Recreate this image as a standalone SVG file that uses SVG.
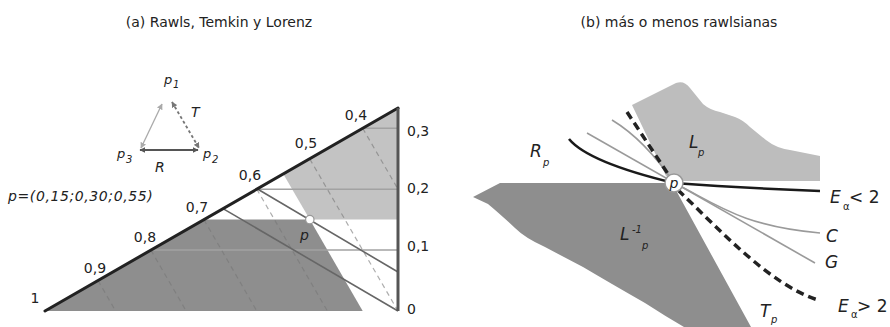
<svg xmlns="http://www.w3.org/2000/svg" width="890" height="327" viewBox="0 0 890 327">
<style>
text{font-family:"DejaVu Sans","Liberation Sans",sans-serif;fill:#222}
.t{font-size:14px}
.ax{font-size:14px}
.it{font-style:italic}
.big{font-size:17px;font-style:italic}
.sub{font-size:10px;font-style:italic}
.hl{stroke:#a2a2a2;stroke-width:1.5;fill:none}
.dl{stroke:#777;stroke-opacity:.6;stroke-width:1.2;stroke-dasharray:5 4;fill:none}
.sl{stroke:#666;stroke-width:1.6;fill:none}
.gl{stroke:#9a9a9a;stroke-width:1.6;fill:none}
</style>
<defs>
<marker id="ah" viewBox="0 0 10 10" refX="9" refY="5" markerWidth="5" markerHeight="5" orient="auto-start-reverse" markerUnits="userSpaceOnUse"><path d="M0,0 L10,5 L0,10 Z" fill="context-stroke"/></marker>
<marker id="ahd" viewBox="0 0 10 10" refX="9" refY="5" markerWidth="6" markerHeight="6" orient="auto-start-reverse" markerUnits="userSpaceOnUse"><path d="M0,0 L10,5 L0,10 Z" fill="#555"/></marker>
<marker id="ahl" viewBox="0 0 10 10" refX="9" refY="5" markerWidth="6" markerHeight="6" orient="auto-start-reverse" markerUnits="userSpaceOnUse"><path d="M0,0 L10,5 L0,10 Z" fill="#aaa"/></marker>
<marker id="aht" viewBox="0 0 10 10" refX="9" refY="5" markerWidth="6" markerHeight="6" orient="auto-start-reverse" markerUnits="userSpaceOnUse"><path d="M0,0 L10,5 L0,10 Z" fill="#777"/></marker>
</defs>

<g id="title-a"><text class="t" x="219" y="27" text-anchor="middle">(a) Rawls, Temkin y Lorenz</text></g>
<g id="title-b"><text class="t" x="679" y="27" text-anchor="middle">(b) más o menos rawlsianas</text></g>

<g id="panel-a">
  <g id="regions-a">
    <polygon points="45,311 203.9,219.6 309.8,219.6 362.7,311" fill="#8e8e8e"/>
    <polygon points="283.3,174 398,108 398,219.6 309.8,219.6" fill="#c3c3c3"/>
  </g>
  <g id="connectors-a">
    <line class="hl" x1="150.9" y1="250.1" x2="398" y2="250.1"/>
    <line class="hl" x1="256.8" y1="189.2" x2="398" y2="189.2"/>
    <line class="hl" x1="362.7" y1="128.3" x2="398" y2="128.3"/>
    <line class="dl" x1="362.7" y1="128.3" x2="398" y2="189.2"/>
    <line class="dl" x1="309.8" y1="159" x2="398" y2="311"/>
    <line class="dl" x1="256.8" y1="189.2" x2="327.4" y2="311"/>
    <line class="dl" x1="203.9" y1="219.6" x2="256.8" y2="311"/>
    <line class="dl" x1="150.9" y1="250.1" x2="186.2" y2="311"/>
    <line class="dl" x1="98" y1="280.5" x2="115.6" y2="311"/>
    <line class="sl" x1="257.5" y1="189" x2="398" y2="272"/>
    <line class="sl" x1="223" y1="208.6" x2="398" y2="311"/>
    <line x1="45" y1="311" x2="398" y2="108" stroke="#222" stroke-width="3" stroke-linecap="round"/>
    <line x1="398" y1="108" x2="398" y2="311" stroke="#555" stroke-width="3"/>
  </g>
  <g id="point-p-a">
    <circle cx="309.8" cy="219.6" r="4.2" fill="#fff" stroke="#999" stroke-width="1.2"/>
    <text class="it" x="300" y="240" font-size="14">p</text>
  </g>
  <g id="labels-a" class="ax">
    <text x="407" y="136">0,3</text>
    <text x="407" y="193">0,2</text>
    <text x="407" y="251">0,1</text>
    <text x="407" y="314">0</text>
    <text x="356" y="120" text-anchor="middle">0,4</text>
    <text x="306" y="148" text-anchor="middle">0,5</text>
    <text x="250" y="180" text-anchor="middle">0,6</text>
    <text x="197" y="212" text-anchor="middle">0,7</text>
    <text x="145" y="242" text-anchor="middle">0,8</text>
    <text x="95" y="273" text-anchor="middle">0,9</text>
    <text x="35" y="303" text-anchor="middle">1</text>
    <text class="it" x="8" y="201" letter-spacing="0.6">p=(0,15;0,30;0,55)</text>
  </g>
  <g id="inset">
    <line x1="141" y1="148" x2="162" y2="104" stroke="#aaa" stroke-width="1.3" marker-start="url(#ahl)" marker-end="url(#ahl)"/>
    <line x1="140" y1="150" x2="198" y2="150" stroke="#555" stroke-width="1.8" marker-start="url(#ahd)" marker-end="url(#ahd)"/>
    <line x1="172" y1="102" x2="199" y2="148" stroke="#777" stroke-width="1.8" stroke-dasharray="3 2.5" marker-start="url(#aht)" marker-end="url(#aht)"/>
    <text class="it" font-size="13" x="164" y="84">p</text><text class="sub" x="173" y="88">1</text>
    <text class="it" font-size="13" x="117" y="158">p</text><text class="sub" x="126" y="163">3</text>
    <text class="it" font-size="13" x="203" y="158">p</text><text class="sub" x="212" y="163">2</text>
    <text class="it" font-size="14" x="155" y="172">R</text>
    <text class="it" font-size="14" x="191" y="117">T</text>
  </g>
</g>

<g id="panel-b">
  <g id="region-Lp">
    <path d="M632,105 L676,83 Q684,80 690,88 L703,104 Q710,110 720,112 L735,117 Q743,120 750,127 L766,140 Q776,148 790,150 L820,156 L820,181 L680,181 L666,176 Z" fill="#bdbdbd"/>
  </g>
  <g id="region-Linv">
    <path d="M500,183 L672,183 L751,327 L684,327 Q665,316 645,303 Q610,283 583,267 Q560,255 545,247 Q525,238 515,228 Q500,214 488,204 L473,197 Z" fill="#8e8e8e"/>
  </g>
  <g id="connectors-b">
    <path class="gl" d="M587,133 L815,263"/>
    <path class="gl" d="M612,120 Q645,140 674,183 C715,203 740,226 820,233"/>
    <path d="M569,139 C583,156 620,170 674,183 Q740,188 820,191" fill="none" stroke="#1a1a1a" stroke-width="2.6"/>
    <path d="M627,112 L674,183 M678,190 C720,230 770,285 818,300" fill="none" stroke="#222" stroke-width="3.5" stroke-dasharray="8 5"/>
  </g>
  <g id="point-p-b">
    <circle cx="674" cy="183" r="9" fill="#fff" stroke="#999" stroke-width="1.5"/>
    <text class="it" x="674" y="188" font-size="14" text-anchor="middle">p</text>
  </g>
  <g id="labels-b">
    <text class="big" x="530" y="157">R</text><text class="sub" x="543" y="166">p</text>
    <text class="big" x="689" y="148">L</text><text class="sub" x="698" y="156">p</text>
    <text class="big" x="620" y="240">L</text><text class="sub" x="632" y="233">-1</text><text class="sub" x="642" y="249">p</text>
    <text class="big" x="760" y="317">T</text><text class="sub" x="771" y="323">p</text>
    <text class="big" x="830" y="203">E</text><text font-size="10" x="843" y="210">α</text><text font-size="17" x="849" y="203">&lt; 2</text>
    <text class="big" x="826" y="242">C</text>
    <text class="big" x="825" y="268">G</text>
    <text class="big" x="838" y="312">E</text><text font-size="10" x="851" y="318">α</text><text font-size="17" x="857" y="312">&gt; 2</text>
  </g>
</g>
</svg>
